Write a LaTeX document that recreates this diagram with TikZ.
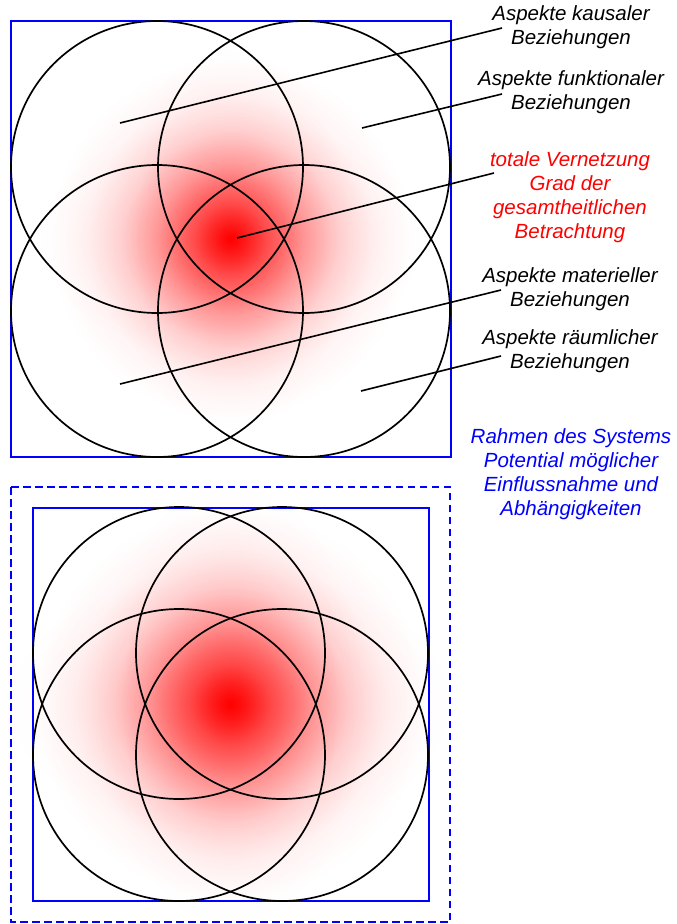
\documentclass[tikz,border=0pt]{standalone}
\usepackage{fontspec}
\setmainfont{Liberation Sans}
\usetikzlibrary{fadings}
\pgfdeclareradialshading{softshade}{\pgfpointorigin}{color(0bp)=(white); color(2.5bp)=(black!22); color(5bp)=(black!42); color(10bp)=(black!68); color(15bp)=(black!86); color(20bp)=(black!96); color(25bp)=(black); color(50bp)=(black)}
\pgfdeclarefading{softfade}{\pgfuseshading{softshade}}
\begin{document}
\begin{tikzpicture}[x=1pt,y=-1pt,
  ring/.style={draw=black, line width=1.7pt, circle, minimum size=292pt, inner sep=0pt},
  frame/.style={draw=blue, line width=1.5pt},
  dframe/.style={draw=blue, line width=2.2pt, dash pattern=on 7.5pt off 4.5pt},
  lead/.style={draw=black, line width=1.6pt},
  lbl/.style={font=\fontsize{20.5}{24}\selectfont\itshape, align=center, inner sep=0pt},
  glow/.style={fill=red, path fading=softfade}
]
\useasboundingbox (0,0) rectangle (677,924);

% ---------- top diagram ----------
\coordinate (ctop) at (230.5,239);
\fill[glow] (ctop) circle (180);
\fill[glow, fill opacity=0.3] (ctop) ellipse [x radius=195, y radius=120];
\fill[glow, fill opacity=0.3] (ctop) ellipse [x radius=120, y radius=195];

\draw[frame] (11,21) rectangle (451,457);
\node[ring] (tl) at (157,167) {};
\node[ring] (tr) at (304,167) {};
\node[ring] (bl) at (157,311) {};
\node[ring] (br) at (304,311) {};

\node[lbl] (l1) at (571,27) {Aspekte kausaler\\Beziehungen};
\node[lbl] (l2) at (571,92) {Aspekte funktionaler\\Beziehungen};
\node[lbl, text=red] (l3) at (570,197) {totale Vernetzung\\Grad der\\gesamtheitlichen\\Betrachtung};
\node[lbl] (l4) at (570,289) {Aspekte materieller\\Beziehungen};
\node[lbl] (l5) at (570,351) {Aspekte räumlicher\\Beziehungen};
\node[lbl, text=blue] (l6) at (571,474) {Rahmen des Systems\\Potential möglicher\\Einflussnahme und\\Abhängigkeiten};

\coordinate (s1) at (120,123); \coordinate (e1) at (502,28);
\coordinate (s2) at (362,128); \coordinate (e2) at (502,94);
\coordinate (s3) at (237,238); \coordinate (e3) at (494,173);
\coordinate (s4) at (120,384); \coordinate (e4) at (501,290);
\coordinate (s5) at (361,391); \coordinate (e5) at (501,356);
\draw[lead] (s1) -- (e1);
\draw[lead] (s2) -- (e2);
\draw[lead] (s3) -- (e3);
\draw[lead] (s4) -- (e4);
\draw[lead] (s5) -- (e5);

% ---------- bottom diagram ----------
\coordinate (cbot) at (230.5,704);
\fill[glow] (cbot) circle (195);
\fill[glow, fill opacity=0.35] (cbot) ellipse [x radius=225, y radius=135];
\fill[glow, fill opacity=0.35] (cbot) ellipse [x radius=135, y radius=225];

\draw[dframe] (11,487) rectangle (450,922);
\draw[frame] (33,508) rectangle (429,901);
\node[ring] (btl) at (179,653) {};
\node[ring] (btr) at (282,653) {};
\node[ring] (bbl) at (179,755) {};
\node[ring] (bbr) at (282,755) {};
\end{tikzpicture}
\end{document}
